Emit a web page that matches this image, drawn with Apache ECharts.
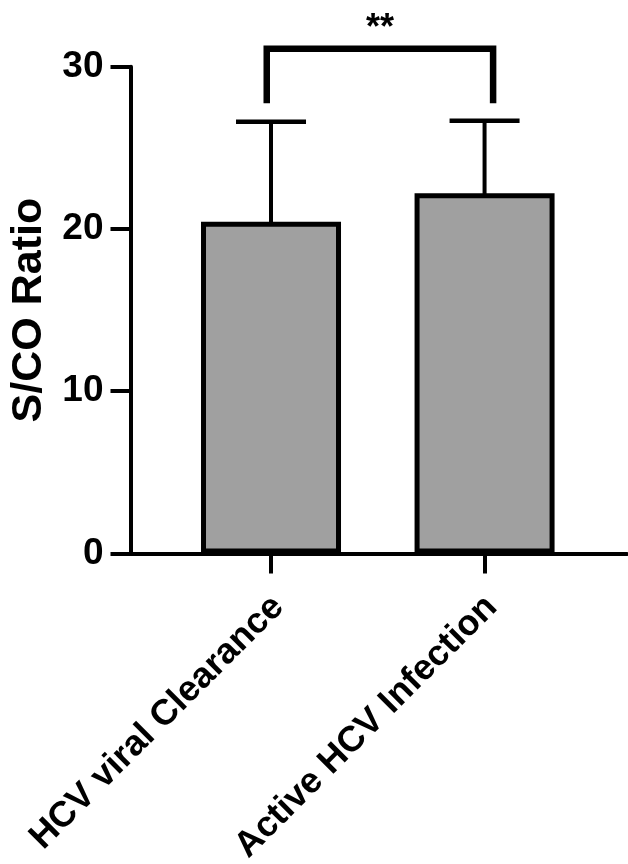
<!DOCTYPE html>
<html><head><meta charset="utf-8">
<script src="https://cdn.jsdelivr.net/npm/echarts@6/dist/echarts.min.js"></script>
<style>html,body{margin:0;padding:0;background:#fff}#c{width:628px;height:864px}</style>
</head><body><div id="c"></div>
<script>
// ---- data ----
const categories = ['HCV viral Clearance', 'Active HCV Infection'];
const meanValues = [20.45, 22.2];
const sdValues = [6.15, 4.47];
const yTickLabels = ['0', '10', '20', '30'];
const sigLabel = '**';
const sigLegs = [0.98, 2.04];      // bracket legs, in category-position units
const sigLegBottom = 27.75;
const sigTop = 31.1;
const sigTextPos = [1.51, 32.3];

// ---- derived ----
const positions = categories.map((_, i) => i + 1);
const barData = positions.map((p, i) => [p, meanValues[i]]);
const errData = positions.map((p, i) => [p, meanValues[i], meanValues[i] + sdValues[i]]);
const FONT = '"Liberation Sans", Arial, sans-serif';

const chart = echarts.init(document.getElementById('c'), null, { renderer: 'canvas' });
chart.setOption({
  animation: false,
  backgroundColor: '#fff',
  textStyle: { fontFamily: FONT },
  grid: { left: 130.5, right: 1, top: 66.7, bottom: 310.5, containLabel: false, outerBoundsMode: 'none' },
  xAxis: {
    type: 'value', min: 0.342, max: 2.667,
    axisLine: { show: true, onZero: false, lineStyle: { color: '#000', width: 4 } },
    axisTick: { show: true, customValues: positions, length: 20, lineStyle: { color: '#000', width: 4 } },
    axisLabel: {
      customValues: positions, rotate: 45, margin: 41, verticalAlign: 'top', lineHeight: 20,
      formatter: v => categories[Math.round(v) - 1] || '',
      color: '#000', fontSize: 36, fontWeight: 'bold', fontFamily: FONT
    },
    splitLine: { show: false }
  },
  yAxis: {
    type: 'value', min: 0, max: 30, interval: 10,
    name: 'S/CO Ratio', nameLocation: 'middle', nameGap: 80, nameRotate: 90,
    nameTextStyle: { color: '#000', fontSize: 43, fontWeight: 'bold', fontFamily: FONT },
    axisLine: { show: true, onZero: false, lineStyle: { color: '#000', width: 4 } },
    axisTick: { show: true, length: 20, lineStyle: { color: '#000', width: 4 } },
    axisLabel: {
      margin: 27, color: '#000', fontSize: 37, fontWeight: 'bold', fontFamily: FONT,
      formatter: v => yTickLabels[Math.round(v / 10)]
    },
    splitLine: { show: false }
  },
  series: [
    {
      type: 'bar', data: barData, barWidth: 140, z: 2,
      itemStyle: { color: '#a0a0a0', borderColor: '#000', borderWidth: 5 }
    },
    {
      type: 'custom', data: errData, z: 3, clip: false,
      renderItem: (params, api) => {
        const x = api.value(0);
        const lo = api.coord([x, api.value(1)]);
        const hi = api.coord([x, api.value(2)]);
        const capHalf = 35;
        return { type: 'group', children: [
          { type: 'line', shape: { x1: lo[0], y1: lo[1] + 3, x2: hi[0], y2: hi[1] }, style: { stroke: '#000', lineWidth: 4 } },
          { type: 'line', shape: { x1: hi[0] - capHalf, y1: hi[1], x2: hi[0] + capHalf, y2: hi[1] }, style: { stroke: '#000', lineWidth: 4.5 } }
        ]};
      }
    },
    {
      type: 'custom', data: [[sigLegs[0], sigLegBottom, sigLegs[1], sigTop]], z: 4, clip: false,
      renderItem: (params, api) => {
        const a = api.coord([sigLegs[0], sigLegBottom]);
        const b = api.coord([sigLegs[0], sigTop]);
        const c = api.coord([sigLegs[1], sigTop]);
        const d = api.coord([sigLegs[1], sigLegBottom]);
        const t = api.coord(sigTextPos);
        return { type: 'group', children: [
          { type: 'polyline', shape: { points: [a, b, c, d] }, style: { stroke: '#000', lineWidth: 6.5, fill: null, lineJoin: 'miter', lineCap: 'butt' } },
          { type: 'text', x: t[0], y: t[1], style: { text: sigLabel, fill: '#000', fontSize: 36, fontWeight: 'bold', fontFamily: FONT, align: 'center', verticalAlign: 'middle' } }
        ]};
      }
    }
  ]
});
</script>
</body></html>
